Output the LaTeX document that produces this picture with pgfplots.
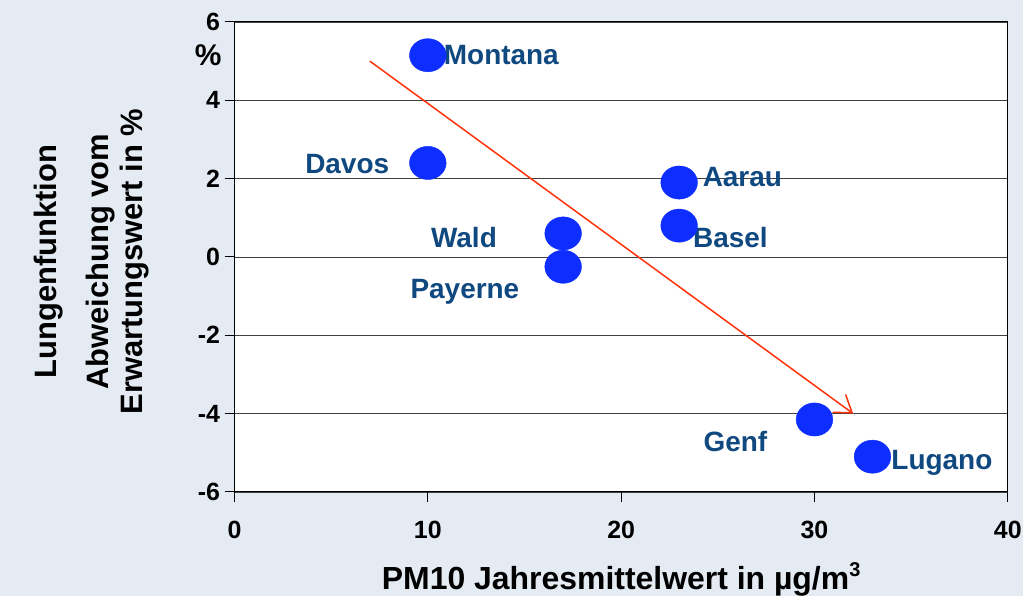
\documentclass[border=0pt]{standalone}
\usepackage{pgfplots}
\pgfplotsset{compat=1.18}
\usetikzlibrary{arrows.meta}
\usepackage{fontspec}
\setmainfont{Liberation Sans}
\definecolor{bgc}{RGB}{228,235,243}
\definecolor{ptc}{RGB}{14,46,255}
\definecolor{lbc}{RGB}{16,72,128}
\definecolor{arc}{RGB}{255,50,10}
\begin{document}
\begin{tikzpicture}
\fill[bgc] (-235pt,-104pt) rectangle (790pt,493pt);
\begin{axis}[
  at={(0,0)}, anchor=south west,
  scale only axis, width=775pt, height=471pt,
  xmin=0, xmax=40, ymin=-6, ymax=6,
  xtick={0,10,20,30,40}, ytick={-6,-4,-2,0,2,4,6},
  xtick pos=bottom, ytick pos=left,
  axis background/.style={fill=white},
  axis line style={black, line width=1pt},
  ymajorgrids, grid style={black!75, line width=0.8pt},
  tick align=outside, major tick length=10pt,
  tick style={black, line width=1pt},
  tick label style={font=\fontsize{25}{28}\selectfont\bfseries},
  /pgf/number format/assume math mode=true,
  yticklabel style={xshift=-1pt},
  xticklabel style={yshift=-16pt},
  xlabel={PM10 Jahresmittelwert in \textmu g/m\raisebox{0.42em}{\fontsize{20}{22}\selectfont 3}},
  xlabel style={font=\fontsize{32}{36}\selectfont\bfseries, at={(axis description cs:0.5,0)}, anchor=north, yshift=-67pt},
  ylabel={Abweichung vom\\Erwartungswert in \%},
  ylabel style={font=\fontsize{31}{34}\selectfont\bfseries, align=center, at={(axis description cs:-0.151,0.49)}, anchor=center},
  clip=false,
]
\addplot[only marks, mark=*, mark size=17.5pt, color=ptc, mark options={xscale=1.05, yscale=0.95}] coordinates {
  (10,5.15) (10,2.4) (17,0.6) (17,-0.25) (23,1.9) (23,0.8) (30,-4.15) (33,-5.1)
};
\addplot[-{Straight Barb[length=16pt,width=22pt]}, color=arc, line width=1.5pt] coordinates {(7,5) (32,-4)};
\begin{scope}[every node/.style={font=\fontsize{28}{30}\selectfont\bfseries, text=lbc}]
\node[anchor=west] at (axis cs:10.65,5.15) {Montana};
\node at (axis cs:5.83,2.36) {Davos};
\node at (axis cs:11.87,0.50) {Wald};
\node at (axis cs:11.92,-0.88) {Payerne};
\node at (axis cs:26.27,2.05) {Aarau};
\node at (axis cs:25.65,0.50) {Basel};
\node at (axis cs:25.91,-4.70) {Genf};
\node at (axis cs:36.59,-5.26) {Lugano};
\end{scope}
\node[font=\fontsize{30}{34}\selectfont\bfseries] at (axis description cs:-0.034,0.93) {\%};
\node[font=\fontsize{31}{34}\selectfont\bfseries, rotate=90] at (axis description cs:-0.241,0.49) {Lungenfunktion};
\end{axis}
\end{tikzpicture}
\end{document}
